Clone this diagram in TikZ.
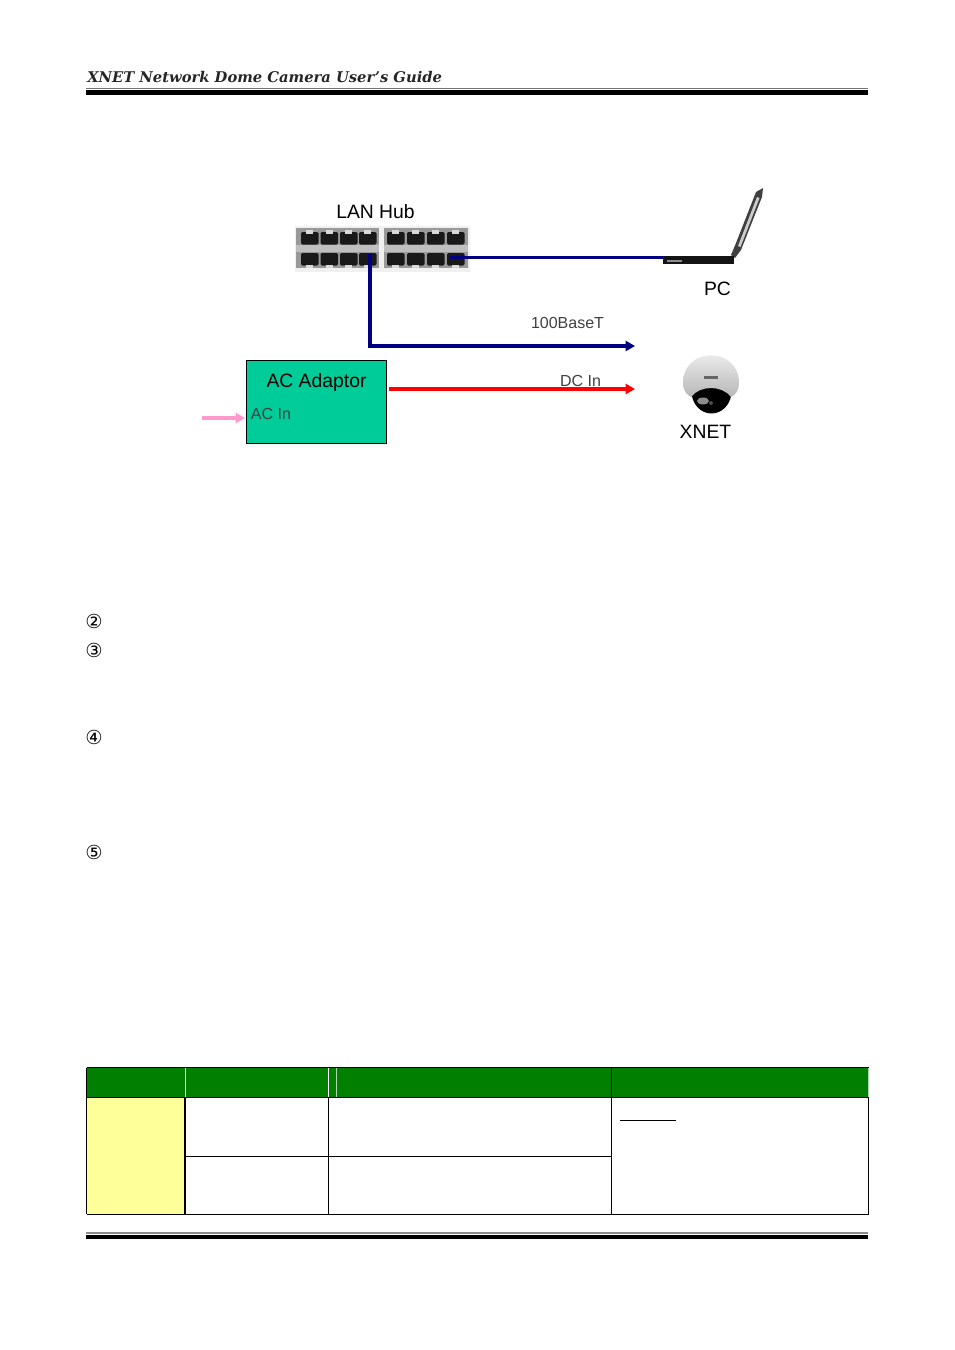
\documentclass[tikz,border=0pt]{standalone}
\usepackage{fontspec}
\setmainfont{Liberation Sans}
\newfontfamily\headfont{DejaVu Serif}
\newfontfamily\markfont{DejaVu Sans}
\usetikzlibrary{arrows.meta,positioning,calc}
\definecolor{lanblue}{HTML}{000080}
\definecolor{acgreen}{HTML}{00CC99}
\definecolor{acpink}{HTML}{FF99CC}
\definecolor{headgreen}{HTML}{007F00}
\definecolor{rowyellow}{HTML}{FFFF99}
\tikzstyle{cable} = [line width=2.5pt,lanblue,-{Triangle[length=7pt,width=7.5pt]}]
\tikzset{
bigLabel/.style={font=\fontsize{14.5}{16}\selectfont,text=black,inner sep=0pt},
smallLabel/.style={font=\fontsize{12}{14}\selectfont,text=black!75,inner sep=0pt},
stepMark/.style={font=\markfont\fontsize{14.5}{16}\selectfont,inner sep=0pt},
tableLine/.style={line width=.8pt,black}
}
\begin{document}
\begin{tikzpicture}[x=.75pt,y=-.75pt]
\useasboundingbox (0,0) rectangle (954,1350);
%----------------------------------------------------------------------------
% Page header and footer
\node (headText) [anchor=base west,inner sep=0pt,text=black!85] at (87,82)
  {\headfont\bfseries\itshape\fontsize{11.05}{13}\selectfont XNET Network Dome Camera User’s Guide};
\fill[black!55] (86,87.6) rectangle (868,88.8);
\fill[black] (86,90) rectangle (868,95);
\fill[black!45] (86,1232) rectangle (868,1234);
\fill[black] (86,1235.2) rectangle (868,1239);
%----------------------------------------------------------------------------
% Placement of hub
\node (hubBox) [fill=black!6,minimum width=131.25pt,minimum height=34.5pt,inner sep=0pt] at (382.5,249) {};
\fill[black!40] (296,228) rectangle (379,268);
\fill[black!40] (384,228) rectangle (468,268);
\fill[black!25] (296,245) rectangle (379,252);
\fill[black!25] (384,245) rectangle (468,252);
\foreach \px in {301,320.5,340,359,387,407,427,447}{
  \fill[black!90,rounded corners=1pt] (\px,232) rectangle +(17.5,12.5);
  \fill[black!90,rounded corners=1pt] (\px,253) rectangle +(17.5,12.5);
  \fill[black!15] (\px+5,230) rectangle +(7,3.5);
  \fill[black!15] (\px+5,264.5) rectangle +(7,3);
}
\node (hubLabel) [bigLabel] at (375.5,212) {LAN Hub};
\coordinate (portL) at (370,254);
\coordinate (portR) at (450,257.5);
%----------------------------------------------------------------------------
% Placement of PC
\fill[black!75] (731,255) -- (736,243) -- (756,192) -- (763,188) -- (762,197) -- (741,250) -- (735,258) -- cycle;
\fill[black!20] (738,246) -- (757,197) -- (759.5,198) -- (740.5,247) -- cycle;
\node (pcBase) [fill=black!92,minimum width=53pt,minimum height=6pt,inner sep=0pt] at (698.5,259.5) {};
\fill[black!45] (667,260) rectangle (682,261.5);
\node (pcLabel) [bigLabel] at (717.5,289) {PC};
%----------------------------------------------------------------------------
% Placement of AC adaptor and camera
\node (acBox) [draw=black,line width=.8pt,fill=acgreen,minimum width=105pt,minimum height=62.25pt,inner sep=0pt] at (316.5,402) {};
\node (acLabel) [bigLabel] at (316.5,382) {AC Adaptor};
\node (acIn) [smallLabel] at (271,414) {AC In};
\coordinate (acStart) at (202,418);
\coordinate (acEnd) at (245,418);
\coordinate (lanEnd) at (635,346);
\coordinate (dcStart) at (389,389);
\coordinate (dcEnd) at (635,389);
\fill[black] (690.5,388) .. controls (690.5,422) and (732,422) .. (732,388) -- cycle;
\fill[black!45] (703,401) circle (6 and 3.5);
\fill[black!70] (711,403) circle (2);
\shade[top color=black!4,bottom color=black!28] (683,383) .. controls (683,346) and (739,346) .. (739,383)
  .. controls (739,391) and (735,395) .. (731,397) .. controls (722,385) and (700,385) .. (691,397)
  .. controls (687,395) and (683,391) .. (683,383) -- cycle;
\fill[black!60] (704,376) rectangle (718,378.5);
\node (camLabel) [bigLabel] at (705.5,432) {XNET};
%----------------------------------------------------------------------------
% Lines
\draw[line width=2.5pt,lanblue] (portR) -- (portR -| pcBase.west);
\draw[cable] (portL) |- (lanEnd);
\draw[cable,red] (dcStart) -- (dcEnd);
\draw[cable,acpink] (acStart) -- (acEnd);
%----------------------------------------------------------------------------
% Notes
\node (lanNote) [smallLabel] at (567.5,323) {100BaseT};
\node (dcNote) [smallLabel] at (580.5,381) {DC In};
\node (stepTwo) [stepMark] at (94,621) {②};
\node (stepThree) [stepMark] at (94,650) {③};
\node (stepFour) [stepMark] at (94,737) {④};
\node (stepFive) [stepMark] at (94,852) {⑤};
%----------------------------------------------------------------------------
% Table
\fill[headgreen] (86.5,1067.7) rectangle (868.5,1097.3);
\fill[rowyellow] (86.5,1097.3) rectangle (185,1214.3);
\draw[white,line width=.6pt] (185,1068) -- (185,1097) (328.5,1068) -- (328.5,1097);
\draw[white!70!headgreen,line width=.5pt] (336,1068) -- (336,1097) (868,1068) -- (868,1097);
\draw[tableLine] (86.5,1067.7) -- (868.5,1067.7);
\draw[tableLine] (86.5,1097.3) -- (868.5,1097.3);
\draw[tableLine] (185,1156.3) -- (611.5,1156.3);
\draw[tableLine] (86.5,1214.3) -- (868.5,1214.3);
\draw[tableLine] (86.5,1067.7) -- (86.5,1214.3);
\draw[tableLine] (185,1097.3) -- (185,1214.3);
\draw[tableLine] (328.5,1097.3) -- (328.5,1214.3);
\draw[tableLine] (611.5,1067.7) -- (611.5,1214.3);
\draw[tableLine] (868.5,1097.3) -- (868.5,1214.3);
\draw[black,line width=.8pt] (619.5,1120.5) -- (675.5,1120.5);
\end{tikzpicture}
\end{document}
